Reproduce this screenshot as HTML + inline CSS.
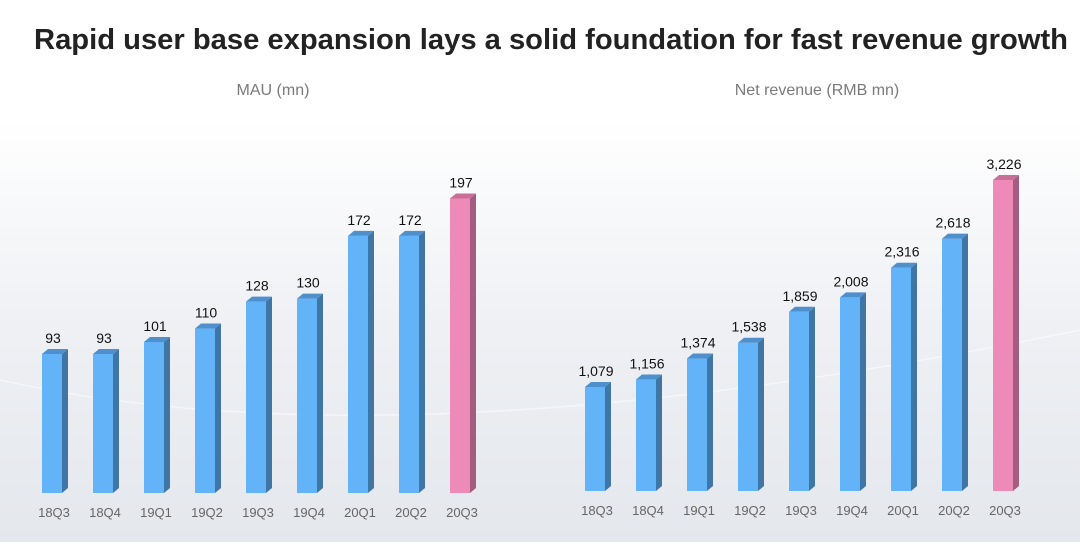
<!DOCTYPE html>
<html><head><meta charset="utf-8"><style>
body{margin:0;width:1080px;height:542px;overflow:hidden;font-family:"Liberation Sans",sans-serif;background:linear-gradient(#ffffff 0px,#ffffff 120px,#eef0f4 330px,#e4e7ec 542px);}
</style></head><body>
<svg width="1080" height="542" xmlns="http://www.w3.org/2000/svg" font-family="Liberation Sans, sans-serif">
<text x="551" y="49" font-size="29" font-weight="bold" text-anchor="middle" fill="#222" textLength="1034" lengthAdjust="spacingAndGlyphs">Rapid user base expansion lays a solid foundation for fast revenue growth</text>
<text x="273" y="95" font-size="16" text-anchor="middle" fill="#7a7a7a">MAU (mn)</text>
<text x="817" y="95" font-size="16" text-anchor="middle" fill="#7a7a7a">Net revenue (RMB mn)</text>
<path d="M0 380 Q400 470 1080 330" stroke="#ffffff" stroke-width="1.5" fill="none" opacity="0.5"/>
<g id="bars"></g>
</svg>
<script>
const g=document.getElementById('bars');
const qs=['18Q3','18Q4','19Q1','19Q2','19Q3','19Q4','20Q1','20Q2','20Q3'];
function chart(vals,labels,x0,bottom,scale){
 let s='';
 vals.forEach((v,i)=>{
  const x=x0+i*51, h=v*scale, top=bottom-h, pink=i==8;
  const f=pink?'#ee8ab7':'#62b3f7', sd=pink?'#a45c80':'#3f76a6', tp=pink?'#c86f98':'#4f8fcc';
  s+=`<rect x="${x}" y="${top}" width="20" height="${h}" fill="${f}"/>`;
  s+=`<polygon points="${x+20},${top} ${x+26},${top-5} ${x+26},${bottom-5} ${x+20},${bottom}" fill="${sd}"/>`;
  s+=`<polygon points="${x},${top} ${x+6},${top-5} ${x+26},${top-5} ${x+20},${top}" fill="${tp}"/>`;
  s+=`<text x="${x+11}" y="${top-11}" font-size="14" text-anchor="middle" fill="#111">${labels[i]}</text>`;
  s+=`<text x="${x+12}" y="${bottom+24}" font-size="13" text-anchor="middle" fill="#666">${qs[i]}</text>`;
 });
 return s;
}
const mau=[93,93,101,110,128,130,172,172,197];
const rev=[1079,1156,1374,1538,1859,2008,2316,2618,3226];
g.innerHTML=chart(mau,mau.map(String),42,493,1.495)+chart(rev,rev.map(v=>v.toLocaleString('en-US')),585,491,0.0964);
</script>
</body></html>
